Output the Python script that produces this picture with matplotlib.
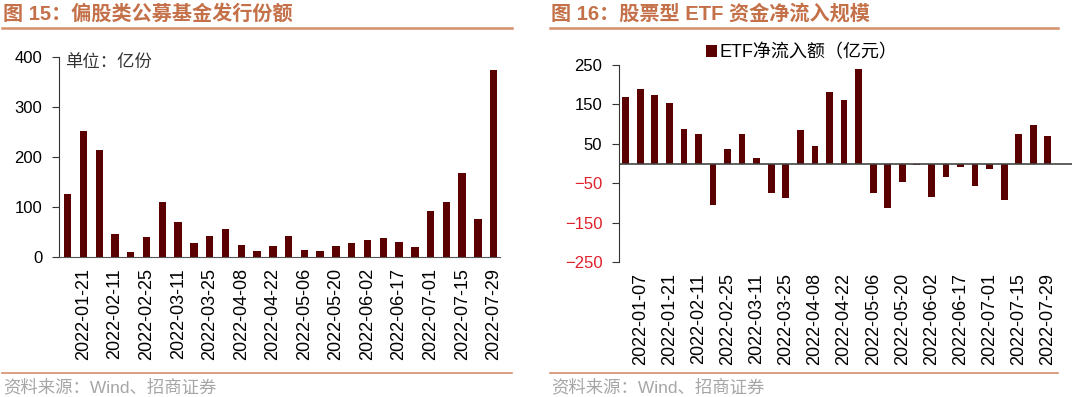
import matplotlib
matplotlib.use("Agg")
import matplotlib.pyplot as plt
from matplotlib.lines import Line2D
import numpy as np

plt.rcParams['font.family'] = ['Liberation Sans', 'Noto Sans CJK SC', 'DejaVu Sans']

# ---------------- data ----------------
left_dates = ["2022-01-14", "2022-01-21", "2022-01-28", "2022-02-11", "2022-02-18", "2022-02-25",
              "2022-03-04", "2022-03-11", "2022-03-18", "2022-03-25", "2022-04-01", "2022-04-08",
              "2022-04-15", "2022-04-22", "2022-04-29", "2022-05-06", "2022-05-13", "2022-05-20",
              "2022-05-27", "2022-06-02", "2022-06-10", "2022-06-17", "2022-06-24", "2022-07-01",
              "2022-07-08", "2022-07-15", "2022-07-22", "2022-07-29"]
left_values = [126, 253, 215, 46, 11, 41, 110, 70, 29, 43, 57, 25, 13, 22, 42, 15, 13, 23,
               29, 34, 39, 31, 20, 92, 111, 168, 77, 375]

right_dates = ["2021-12-31", "2022-01-07", "2022-01-14", "2022-01-21", "2022-01-28", "2022-02-11",
               "2022-02-18", "2022-02-25", "2022-03-04", "2022-03-11", "2022-03-18", "2022-03-25",
               "2022-04-01", "2022-04-08", "2022-04-15", "2022-04-22", "2022-04-29", "2022-05-06",
               "2022-05-13", "2022-05-20", "2022-05-27", "2022-06-02", "2022-06-10", "2022-06-17",
               "2022-06-24", "2022-07-01", "2022-07-08", "2022-07-15", "2022-07-22", "2022-07-29"]
right_values = [168, 189, 174, 154, 88, 74, -106, 36, 74, 14, -74, -87, 84, 44, 182, 160, 239,
                -76, -114, -47, -3, -84, -34, -8, -57, -13, -93, 74, 98, 69]

left_title = "图 15：偏股类公募基金发行份额"
right_title = "图 16：股票型 ETF 资金净流入规模"
left_unit = "单位：亿份"
right_legend = "ETF净流入额（亿元）"
source = "资料来源：Wind、招商证券"

bar_color = "#5A0000"
title_color = "#C4714A"
line_color = "#D4906C"

W, H = 1080, 397
fig = plt.figure(figsize=(W / 100, H / 100), dpi=100)

def fx(px):
    return px / W

def fy(py):
    return 1 - py / H

# ---------- headers / footers ----------
for x0, x1, title in [(2, 512, left_title), (550, 1058, right_title)]:
    fig.text(fx(x0 + 1), fy(14), title, color=title_color, fontsize=14.5, fontweight='bold',
             va='center', ha='left')
    fig.add_artist(Line2D([fx(x0), fx(x1)], [fy(28), fy(28)], color=line_color, lw=1.8))
    fig.add_artist(Line2D([fx(x0), fx(x1)], [fy(373), fy(373)], color=line_color, lw=1.2))
    fig.text(fx(x0 + 1), fy(387), source, color="#A6A6A6", fontsize=12.5, va='center', ha='left')

# ---------- left chart ----------
axL = fig.add_axes([fx(59), fy(257), fx(500 - 59), fy(57) - fy(257)])
xl = np.arange(len(left_values))
axL.bar(xl, left_values, width=0.47, color=bar_color)
axL.set_ylim(0, 400)
axL.set_xlim(-0.55, len(left_values) - 0.6)
axL.set_yticks([0, 100, 200, 300, 400])
axL.set_xticks(xl[1::2])
axL.set_xticklabels(left_dates[1::2], rotation=90, fontsize=13)
for s in ['top', 'right']:
    axL.spines[s].set_visible(False)
axL.spines['left'].set_color('#333333')
axL.spines['bottom'].set_color('#555555')
axL.tick_params(axis='y', direction='out', length=5, labelsize=12, color='#333333', pad=7)
axL.tick_params(axis='x', length=0, pad=8)
fig.text(fx(65), fy(62), left_unit, fontsize=12.5, color='#333333', va='center', ha='left')

# ---------- right chart ----------
axR = fig.add_axes([fx(619), fy(262), fx(1072 - 619), fy(65) - fy(262)])
xr = np.arange(len(right_values))
axR.bar(xr, right_values, width=0.46, color=bar_color, label=right_legend)
axR.set_ylim(-250, 250)
axR.set_xlim(-0.46, len(right_values) - 1 + 1.66)
axR.set_yticks([250, 150, 50, -50, -150, -250])
axR.set_xticks(xr[1::2])
axR.set_xticklabels(right_dates[1::2], rotation=90, fontsize=13)
for s in ['top', 'right', 'bottom']:
    axR.spines[s].set_visible(False)
axR.spines['left'].set_color('#333333')
axR.axhline(0, color='#444444', lw=1.2)
axR.tick_params(axis='y', direction='out', length=5, labelsize=12, color='#333333', pad=7)
axR.tick_params(axis='x', length=0, pad=8)
for lab, v in zip(axR.get_yticklabels(), [250, 150, 50, -50, -150, -250]):
    lab.set_color('#E0202A' if v < 0 else 'black')
axR.legend(loc='upper left', bbox_to_anchor=(fx(706), fy(44)), bbox_transform=fig.transFigure,
           frameon=False, fontsize=13, handlelength=0.6, handleheight=0.6, handletextpad=0.15,
           borderaxespad=0, borderpad=0)

fig.savefig("out.png", dpi=100)
